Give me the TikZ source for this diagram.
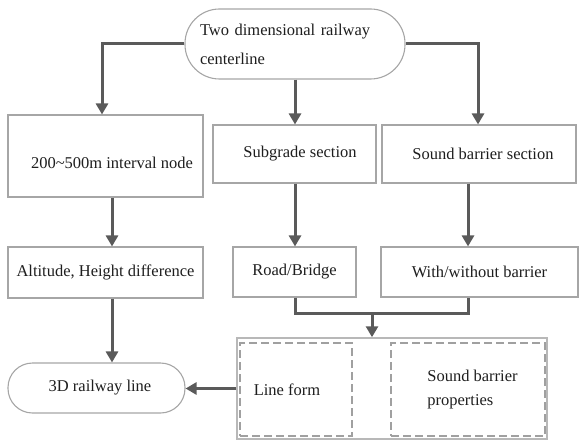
\documentclass[tikz,border=0pt]{standalone}
\usepackage{fontspec}
\setmainfont{Liberation Serif}
\usetikzlibrary{arrows.meta}
\definecolor{arrc}{HTML}{5A5A5A}
\definecolor{boxc}{HTML}{A6A6A6}
\definecolor{dashc}{HTML}{A0A0A0}
\definecolor{txt}{HTML}{1E1E1E}
\newcommand{\fsz}{\fontsize{16.5}{20}\selectfont}
\begin{document}
\begin{tikzpicture}[x=1pt,y=-1pt,
  box/.style={draw=boxc, line width=1.1pt, fill=white, text=txt, font=\fsz, inner sep=0pt},
  stad/.style={box, rounded corners=#1},
  arr/.style={draw=arrc, line width=3pt, -{Triangle[width=12pt,length=11pt]}},
  ln/.style={draw=arrc, line width=3pt},
  dbox/.style={draw=dashc, line width=1.1pt, dash pattern=on 8pt off 4pt, text=txt, font=\fsz, inner sep=0pt},
  obox/.style={draw=boxc!80, line width=1.5pt, inner sep=0pt}]
\useasboundingbox (0,0) rectangle (580,441);
% top stadium
\node[stad=34.5pt, minimum width=220pt, minimum height=70pt, text width=190pt, inner xsep=15pt, align=left,
      font={\fontsize{16.5}{29}\selectfont}] (tl) at (295,44) {Two dimensional railway\\centerline};
% first row
\node[box, minimum width=195pt, minimum height=82pt, text height=25pt, text depth=0pt] (A) at (105.5,156) {\hspace*{13pt}200\textasciitilde500m interval node};
\node[box, minimum width=163pt, minimum height=58pt] (B) at (294.5,154) {\hspace*{11pt}Subgrade section};
\node[box, minimum width=194pt, minimum height=58pt] (C) at (479,154) {\hspace*{8pt}Sound barrier section};
% second row
\node[box, minimum width=195pt, minimum height=51pt] (D) at (105.5,272.5) {Altitude, Height difference};
\node[box, minimum width=123pt, minimum height=50pt] (E) at (294.5,272) {Road/Bridge};
\node[box, minimum width=197pt, minimum height=50pt] (F) at (479.5,272) {With/without barrier};
% bottom
\node[stad=24.5pt, minimum width=177pt, minimum height=50pt] (bl) at (96.5,388) {\hspace*{7pt}3D railway line};
\node[obox, minimum width=310pt, minimum height=101pt] (outer) at (392,388.5) {};
\node[dbox, minimum width=112pt, minimum height=93pt] (in1) at (296,389.5) {Line form\hspace*{18pt}};
\node[dbox, minimum width=154pt, minimum height=93pt, align=left, font={\fontsize{16.5}{24}\selectfont}] (in2) at (468,389.5) {\hspace*{9pt}Sound barrier\\\hspace*{9pt}properties};
% connectors
\draw[arr] (tl.west) -| ([xshift=-3.5pt]A.north);
\draw[arr] (tl.south) -- (tl.south |- B.north);
\draw[arr] (tl.east) -| ([xshift=-1pt]C.north);
\draw[arr] ([xshift=6.5pt]A.south) -- ([xshift=6.5pt]D.north);
\draw[arr] ([xshift=0.5pt]B.south) -- ([xshift=0.5pt]E.north);
\draw[arr] ([xshift=-11pt]C.south) -- ([xshift=-11.5pt]F.north);
\draw[arr] ([xshift=6.5pt]D.south) -- ([xshift=6.5pt]D.south |- bl.north);
\coordinate (j) at (372,313);
\draw[ln] ([xshift=0.5pt]E.south) |- (j) -| ([xshift=-11.5pt]F.south);
\draw[arr] (j) -- (j |- outer.north);
\draw[arr] (outer.west) -- (outer.west -| bl.east);
\end{tikzpicture}
\end{document}
